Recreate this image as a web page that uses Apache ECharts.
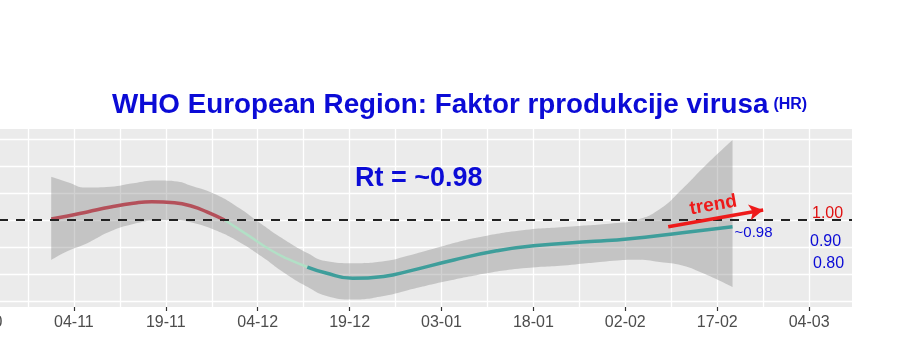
<!DOCTYPE html>
<html><head><meta charset="utf-8">
<style>html,body{margin:0;padding:0;background:#fff}#c{width:900px;height:360px}</style>
<script src="https://cdn.jsdelivr.net/npm/echarts@6/dist/echarts.min.js"></script>
</head><body><div id="c"></div>
<script>
// x values are days since 20-10 (20 Oct)
const tickLabels = ['20-10','04-11','19-11','04-12','19-12','03-01','18-01','02-02','17-02','04-03'];
const tickDays = [0,15,30,45,60,75,90,105,120,135];

// Rt smoothed curve
const rtDays   = [11.3,14,17.2,21,24.7,27.7,31.4,34.4,36.7,39.6,43.4,47.1,50,53.1,56,60.5,65.8,69.5,77,84,90,100,105.3,114.3,122.5];
const rtValues = [1.004,1.015,1.03,1.048,1.062,1.068,1.064,1.05,1.03,1.0,0.944,0.889,0.855,0.826,0.805,0.784,0.792,0.81,0.852,0.886,0.905,0.921,0.93,0.953,0.975];
// segment breaks (day): above 1 / not significant / below 1
const segBreaks = [39.6, 53.1];

// confidence band
const bandDays  = [11.3,14,17,21,24.7,28.4,31.4,34.4,38.1,41.9,45.6,49.3,53.1,56.1,60.5,65.8,69.5,75.5,80.7,88.2,95.6,103.1,106.8,110.6,114.3,118,122.5];
const bandUpper = [1.16,1.14,1.12,1.123,1.136,1.146,1.144,1.125,1.095,1.045,0.985,0.928,0.878,0.848,0.84,0.848,0.868,0.905,0.934,0.962,0.975,0.988,1.0,1.04,1.115,1.2,1.296];
const bandLower = [0.852,0.885,0.912,0.958,0.985,0.998,0.999,0.99,0.962,0.92,0.866,0.805,0.753,0.72,0.706,0.72,0.74,0.772,0.796,0.821,0.833,0.849,0.853,0.845,0.832,0.8,0.752];

const refLevel = 1.0;
const trendFrom = [112, 0.975];
const trendTo = [127.5, 1.037];

const FONT = "'Liberation Sans', Arial, sans-serif";
const BLUE = '#0b0bd6';

const pts = (xs, ys) => xs.map((x, i) => [x, ys[i]]);
// value first, day second (so that stacking acts on the value dimension)
const ptsYX = (xs, ys) => xs.map((x, i) => [ys[i], x]);
const bandWidth = bandUpper.map((u, i) => +(u - bandLower[i]).toFixed(4));
const rtAll = pts(rtDays, rtValues);
const seg1 = rtAll.filter(p => p[0] <= segBreaks[0]);
const seg2 = rtAll.filter(p => p[0] >= segBreaks[0] && p[0] <= segBreaks[1]);
const seg3 = rtAll.filter(p => p[0] >= segBreaks[1]);

const chart = echarts.init(document.getElementById('c'), null, {renderer: 'canvas'});
const xCommon = {type: 'value', min: 0, max: 142, gridIndex: 0, axisLine: {show: false}};
const annoText = (text, left, top, color, size) => ({
  text, left, top, padding: 0,
  textStyle: {fontSize: size, fontWeight: 'normal', color, fontFamily: FONT}
});
const option = {
  animation: false,
  backgroundColor: '#ffffff',
  textStyle: {fontFamily: FONT},
  title: [
    {
      text: '{a|WHO European Region: Faktor rprodukcije virusa} {b|(HR)}',
      left: 112, top: 91, padding: 0,
      textStyle: {
        rich: {
          a: {fontSize: 27.8, fontWeight: 'bold', color: BLUE, fontFamily: FONT},
          b: {fontSize: 16, fontWeight: 'bold', color: BLUE, fontFamily: FONT}
        }
      }
    },
    {text: 'Rt = ~0.98', left: 355, top: 165, padding: 0, textStyle: {fontSize: 27, fontWeight: 'bold', color: BLUE, fontFamily: FONT}},
    annoText('1.00', 812, 206, '#e01010', 16),
    annoText('0.90', 810, 234, BLUE, 16),
    annoText('0.80', 813, 256, BLUE, 16)
  ],
  grid: {left: -18, right: 48, top: 129, bottom: 53, show: true, backgroundColor: '#ebebeb', borderWidth: 0,
         outerBoundsMode: 'none', containLabel: false},
  xAxis: [
    Object.assign({}, xCommon, {
      interval: 7.5,
      axisTick: {show: false}, axisLabel: {show: false},
      splitLine: {show: true, showMinLine: false, showMaxLine: false, lineStyle: {color: '#ffffff', width: 1.3}}
    }),
    Object.assign({}, xCommon, {
      interval: 15, position: 'bottom',
      splitLine: {show: false},
      axisTick: {show: true, length: 4, lineStyle: {color: '#333333', width: 1.2}, customValues: tickDays},
      axisLabel: {show: true, margin: 8, fontSize: 16, color: '#4d4d4d', fontFamily: FONT, customValues: tickDays,
        hideOverlap: false, formatter: v => tickLabels[Math.round(v / 15)] || ''}
    })
  ],
  yAxis: {
    type: 'value', min: 0.678, max: 1.337,
    axisLine: {show: false}, axisTick: {show: false}, axisLabel: {show: false},
    splitLine: {show: true, showMinLine: false, showMaxLine: false, lineStyle: {color: '#ffffff', width: 1.3}}
  },
  series: [
    {
      name: 'lower', type: 'line', stack: 'ci', smooth: true, symbol: 'none', silent: true,
      encode: {x: 1, y: 0},
      data: ptsYX(bandDays, bandLower), lineStyle: {opacity: 0}, z: 2
    },
    {
      name: 'band', type: 'line', stack: 'ci', smooth: true, symbol: 'none', silent: true,
      encode: {x: 1, y: 0},
      data: ptsYX(bandDays, bandWidth), lineStyle: {opacity: 0},
      areaStyle: {color: 'rgba(125,125,125,0.5)'}, z: 2
    },
    {
      name: 'rt1', type: 'line', smooth: true, symbol: 'none', silent: true,
      data: seg1, lineStyle: {color: '#b4505a', width: 3.5}, z: 3
    },
    {
      name: 'rt2', type: 'line', smooth: true, symbol: 'none', silent: true,
      data: seg2, lineStyle: {color: '#b2e0c6', width: 2.5}, z: 3
    },
    {
      name: 'rt3', type: 'line', smooth: true, symbol: 'none', silent: true,
      data: seg3, lineStyle: {color: '#3e9e9b', width: 3.5}, z: 3,
      endLabel: {show: true, formatter: '~0.98', color: BLUE, fontSize: 15, fontFamily: FONT, distance: 2, offset: [0, 6]}
    },
    {
      name: 'annot', type: 'line', data: [], z: 5, silent: true,
      markLine: {
        silent: true, animation: false, symbol: ['none', 'none'],
        data: [
          {yAxis: refLevel, lineStyle: {type: [9, 8], color: '#222222', width: 2.2}, label: {show: false}},
          [
            {coord: trendFrom, symbol: 'none',
             lineStyle: {type: 'solid', color: '#ee1a1a', width: 3.5},
             label: {show: true, position: 'insideMiddleTop', formatter: 'trend', color: '#ee1a1a', fontSize: 19, fontWeight: 'bold', fontFamily: FONT, distance: 4}},
            {coord: trendTo, symbol: 'arrow', symbolSize: [12, 14]}
          ]
        ]
      }
    }
  ]
};
chart.setOption(option);
</script>
</body></html>
